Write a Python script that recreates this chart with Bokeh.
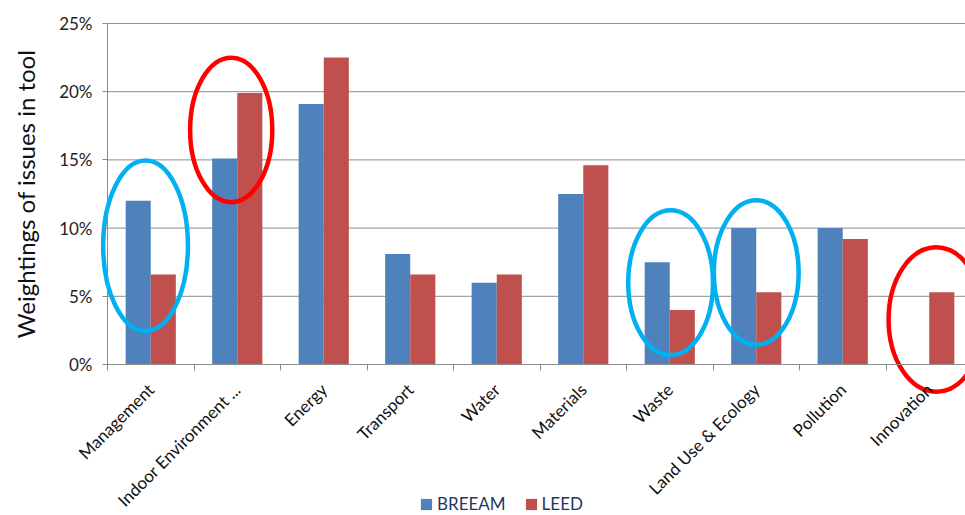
import math
from bokeh.plotting import figure
from bokeh.models import (Range1d, FixedTicker, Legend, LegendItem, ColumnDataSource)
from bokeh.embed import file_html
from bokeh.resources import INLINE

categories = ["Management", "Indoor Environment ...", "Energy", "Transport", "Water",
              "Materials", "Waste", "Land Use & Ecology", "Pollution", "Innovation"]
breeam = [12.0, 15.1, 19.1, 8.1, 6.0, 12.5, 7.5, 10.0, 10.0, 0.0]
leed = [6.6, 19.9, 22.5, 6.6, 6.6, 14.6, 4.0, 5.3, 9.2, 5.3]
y_ticks = [0, 5, 10, 15, 20, 25]
y_tick_labels = ["0%", "5%", "10%", "15%", "20%", "25%"]

# highlighted categories (hand-drawn ellipses in the original)
hl_category = ["Management", "Indoor Environment ...", "Waste", "Land Use & Ecology", "Innovation"]
hl_color = ["#00B0F0", "#FF0000", "#00B0F0", "#00B0F0", "#FF0000"]

n = len(categories)
centers = [i + 0.5 for i in range(n)]
bounds = [float(i) for i in range(n + 1)]

# The frame covers the whole page; axes are pinned at x=0 / y=0 so nothing is clipped.
px_per_cat = 86.5
px_per_unit = 341 / 25
x_start, x_end = -107 / px_per_cat, 858 / px_per_cat
y_start, y_end = -151 / px_per_unit, 25 + 23 / px_per_unit

p = figure(width=965, height=515, output_backend="svg", toolbar_location=None,
           x_range=Range1d(x_start, x_end), y_range=Range1d(y_start, y_end),
           min_border_left=0, min_border_right=0, min_border_top=0, min_border_bottom=0)
p.outline_line_color = None
p.background_fill_color = "white"

grey = "#8c8c8c"
p.xgrid.visible = False
p.ygrid.visible = False

# horizontal gridlines only across the plot area
gl = y_ticks[1:]
p.segment(x0=[0] * len(gl), x1=[x_end] * len(gl), y0=gl, y1=gl, line_color=grey, line_width=1)

# bars
src = ColumnDataSource(dict(xb=[c - 0.145 for c in centers], xl=[c + 0.145 for c in centers],
                            breeam=breeam, leed=leed))
rb = p.vbar(x="xb", top="breeam", width=0.29, source=src, fill_color="#4F81BD", line_color=None)
rl = p.vbar(x="xl", top="leed", width=0.29, source=src, fill_color="#C0504D", line_color=None)

# highlight ellipses
ex = {"Management": (0.44, 8.7, 0.98, 12.5), "Indoor Environment ...": (1.43, 17.2, 0.95, 10.6),
      "Waste": (6.51, 6.0, 0.98, 10.6), "Land Use & Ecology": (7.50, 6.75, 0.98, 10.6),
      "Innovation": (9.58, 3.3, 1.10, 10.6)}
for cat, col in zip(hl_category, hl_color):
    cx, cy, w, h = ex[cat]
    p.ellipse(x=cx, y=cy, width=w, height=h, fill_color=None, line_color=col, line_width=4.5)

# y axis (pinned at x=0)
ya = p.yaxis[0]
ya.fixed_location = 0
ya.ticker = FixedTicker(ticks=y_ticks)
ya.bounds = (0, 25)
ya.major_label_overrides = {t: l for t, l in zip(y_ticks, y_tick_labels)}
ya.axis_line_color = grey
ya.major_tick_line_color = grey
ya.major_tick_out = 5
ya.major_tick_in = 0
ya.minor_tick_line_color = None
ya.major_label_text_font = "Lato"
ya.major_label_text_font_size = "17px"
ya.major_label_text_color = "#222222"
ya.major_label_standoff = 10
ya.axis_label = "Weightings of issues in tool"
ya.axis_label_text_font = "Lato"
ya.axis_label_text_font_size = "24px"
ya.axis_label_text_font_style = "normal"
ya.axis_label_text_color = "#111111"
ya.axis_label_standoff = 16

# x axis (pinned at 0%)
xa = p.xaxis[0]
xa.fixed_location = 0
xa.bounds = (0, x_end)
xa.ticker = FixedTicker(ticks=centers, minor_ticks=bounds)
xa.major_label_overrides = {c: l for c, l in zip(centers, categories)}
xa.axis_line_color = grey
xa.major_tick_line_color = None
xa.major_tick_out = 0
xa.major_tick_in = 0
xa.minor_tick_line_color = grey
xa.minor_tick_out = 6
xa.minor_tick_in = 0
xa.major_label_orientation = math.pi / 4
xa.major_label_text_font = "Lato"
xa.major_label_text_font_size = "17px"
xa.major_label_text_color = "#111111"
xa.major_label_standoff = 16

legend = Legend(items=[LegendItem(label="BREEAM", renderers=[rb]),
                       LegendItem(label="LEED", renderers=[rl])],
                location=(419, 1), orientation="horizontal",
                padding=0, margin=0, spacing=18, label_standoff=4,
                glyph_width=14, glyph_height=14,
                border_line_color=None, background_fill_alpha=0,
                label_text_font="Lato", label_text_font_size="17px",
                label_text_color="#1F3864")
p.add_layout(legend, "center")

open("out.html", "w").write(file_html(p, INLINE))
